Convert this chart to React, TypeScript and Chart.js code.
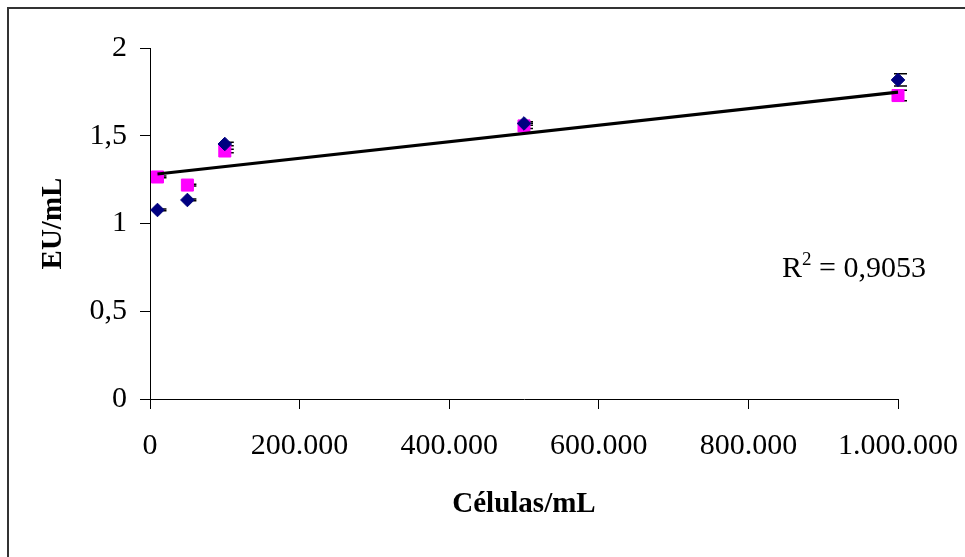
import React, { useEffect, useRef } from "react";
import { Chart, registerables } from "chart.js";

Chart.register(...registerables);

const xValues = [10000, 50000, 100000, 500000, 1000000];
const seriesDiamond = [1.077, 1.134, 1.453, 1.57, 1.818];
const seriesSquare = [1.265, 1.219, 1.413, 1.556, 1.729];
const errDiamond = [0.005, 0.005, 0.01, 0.01, 0.035];
const errSquare = [0.005, 0.005, 0.01, 0.015, 0.03];
const trendX = [10000, 1000000];
const trendY = [1.282, 1.749];
const xTicks = [0, 200000, 400000, 600000, 800000, 1000000];
const yTicks = [0, 0.5, 1, 1.5, 2];
const r2Label = "0,9053";

const FONT = "'Liberation Serif', 'Times New Roman', serif";

const errorBarPlugin = {
  id: "errorBars",
  beforeDatasetsDraw(chart: any) {
    const ctx = chart.ctx;
    const xs = chart.scales.x;
    const ys = chart.scales.y;
    const sets = [
      { vals: seriesDiamond, errs: errDiamond },
      { vals: seriesSquare, errs: errSquare },
    ];
    ctx.save();
    ctx.strokeStyle = "#000";
    ctx.lineWidth = 1.5;
    sets.forEach((s) => {
      xValues.forEach((xv, i) => {
        const px = xs.getPixelForValue(xv);
        const top = ys.getPixelForValue(s.vals[i] + s.errs[i]);
        const bot = ys.getPixelForValue(s.vals[i] - s.errs[i]);
        ctx.beginPath();
        ctx.moveTo(px, top);
        ctx.lineTo(px, bot);
        ctx.moveTo(px - 4, top);
        ctx.lineTo(px + 9, top);
        ctx.moveTo(px - 4, bot);
        ctx.lineTo(px + 9, bot);
        ctx.stroke();
      });
    });
    ctx.restore();
  },
};

const decorPlugin = {
  id: "decor",
  beforeDraw(chart: any) {
    const ctx = chart.ctx;
    ctx.save();
    ctx.fillStyle = "#fff";
    ctx.fillRect(0, 0, chart.width, chart.height);
    ctx.fillStyle = "#333";
    ctx.fillRect(7, 7, chart.width, 2);
    ctx.fillRect(7, 7, 2, chart.height);
    ctx.restore();
  },
  afterDraw(chart: any) {
    const ctx = chart.ctx;
    ctx.save();
    ctx.fillStyle = "#000";
    ctx.textBaseline = "alphabetic";
    ctx.textAlign = "left";
    ctx.font = `30px ${FONT}`;
    let x = 782;
    ctx.fillText("R", x, 277);
    x += ctx.measureText("R").width;
    ctx.font = `19px ${FONT}`;
    ctx.fillText("2", x, 265);
    x += ctx.measureText("2").width;
    ctx.font = `30px ${FONT}`;
    ctx.fillText(" = " + r2Label, x, 277);
    ctx.restore();
  },
};

export default function App() {
  const ref = useRef<HTMLCanvasElement | null>(null);
  useEffect(() => {
    if (!ref.current) return;
    Chart.defaults.font.family = FONT;
    Chart.defaults.color = "#000";
    const chart = new Chart(ref.current, {
      type: "scatter",
      data: {
        datasets: [
          {
            type: "line",
            label: "Trend",
            data: trendX.map((x, i) => ({ x, y: trendY[i] })),
            borderColor: "#000",
            borderWidth: 3.2,
            pointRadius: 0,
            fill: false,
            clip: false,
          } as any,
          {
            label: "A",
            data: xValues.map((x, i) => ({ x, y: seriesDiamond[i] })),
            pointStyle: "rectRot",
            pointRadius: 6.8,
            backgroundColor: "#000080",
            borderColor: "#000080",
            borderWidth: 1,
            clip: false,
          } as any,
          {
            label: "B",
            data: xValues.map((x, i) => ({ x, y: seriesSquare[i] })),
            pointStyle: "rect",
            pointRadius: 8.5,
            backgroundColor: "#FF00FF",
            borderColor: "#FF00FF",
            borderWidth: 1,
            clip: false,
          } as any,
        ],
      },
      options: {
        animation: false,
        responsive: false,
        layout: { padding: { left: 8, top: 48, right: 67, bottom: 0 } },
        plugins: {
          legend: { display: false },
          tooltip: { enabled: false },
        },
        scales: {
          x: {
            type: "linear",
            min: 0,
            max: 1000000,
            afterBuildTicks: (s: any) => {
              s.ticks = xTicks.map((v) => ({ value: v }));
            },
            afterFit: (s: any) => {
              s.height = 158;
              s.paddingLeft = 0;
              s.paddingRight = 0;
            },
            ticks: {
              font: { size: 30 },
              padding: 19,
              maxRotation: 0,
              autoSkip: false,
              callback: (v: any) =>
                Number(v).toString().replace(/\B(?=(\d{3})+(?!\d))/g, "."),
            },
            grid: {
              display: true,
              drawOnChartArea: false,
              drawTicks: true,
              tickLength: 10,
              color: "#000",
            },
            border: { display: true, color: "#000", width: 1 },
            title: {
              display: true,
              text: "Células/mL",
              font: { size: 29, weight: "bold" },
              padding: { top: 0, bottom: 35 },
            },
          },
          y: {
            type: "linear",
            min: 0,
            max: 2,
            afterBuildTicks: (s: any) => {
              s.ticks = yTicks.map((v) => ({ value: v }));
            },
            afterFit: (s: any) => {
              s.width = 142;
              s.paddingTop = 0;
              s.paddingBottom = 0;
            },
            ticks: {
              font: { size: 30 },
              padding: 13,
              autoSkip: false,
              callback: (v: any) => String(v).replace(".", ","),
            },
            grid: {
              display: true,
              drawOnChartArea: false,
              drawTicks: true,
              tickLength: 10,
              color: "#000",
            },
            border: { display: true, color: "#000", width: 1 },
            title: {
              display: true,
              text: "EU/mL",
              font: { size: 29, weight: "bold" },
              padding: { top: 28, bottom: 0 },
            },
          },
        },
      },
      plugins: [errorBarPlugin, decorPlugin],
    });
    return () => chart.destroy();
  }, []);
  return (
    <div style={{ position: "absolute", left: 0, top: 0, width: 965, height: 557 }}>
      <canvas ref={ref} width={965} height={557} style={{ display: "block" }} />
    </div>
  );
}
